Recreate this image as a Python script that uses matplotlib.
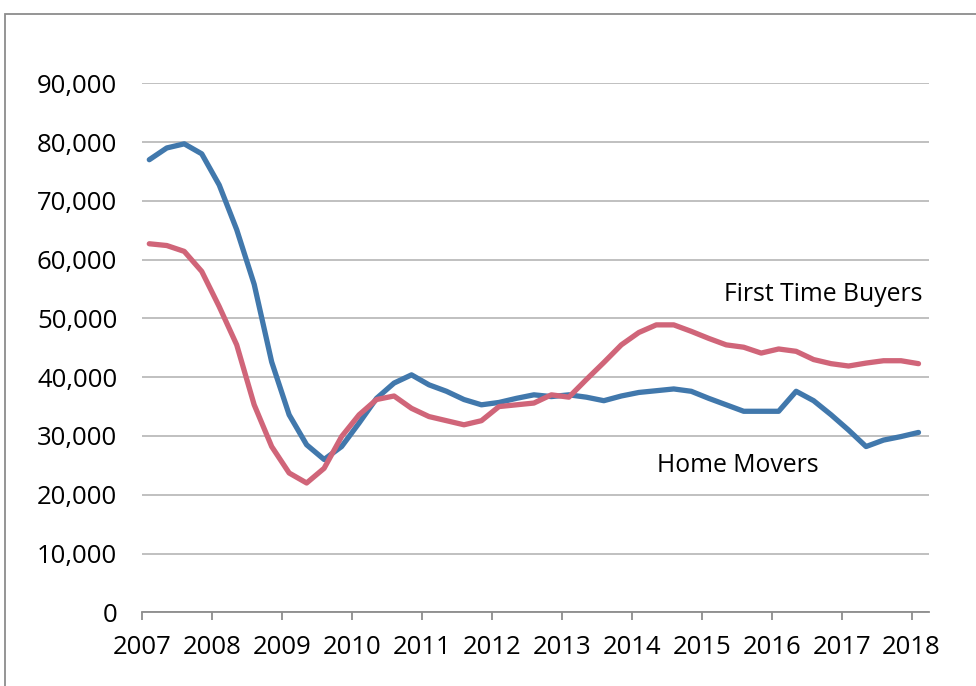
import matplotlib
matplotlib.use("Agg")
import matplotlib.pyplot as plt
from matplotlib.patches import Rectangle
import numpy as np

plt.rcParams['font.family'] = ['Open Sans', 'DejaVu Sans']

# Quarterly data, 2007 Q1 .. 2018 Q1
start_year = 2007
home_movers = [77000, 79000, 79700, 78000, 72700, 65100, 55800, 42600,
               33600, 28500, 26000, 28200, 32200, 36400, 39000, 40400,
               38700, 37600, 36200, 35300, 35700, 36400, 37000, 36700,
               37000, 36600, 36000, 36800, 37400, 37700, 38000, 37600,
               36400, 35300, 34200, 34200, 34200, 37600, 36000, 33600,
               31000, 28200, 29300, 29900, 30600]
first_time_buyers = [62700, 62400, 61400, 58000, 52000, 45500, 35300, 28200,
                     23700, 22000, 24500, 29900, 33600, 36200, 36800, 34700,
                     33300, 32600, 31900, 32600, 35000, 35300, 35600, 37000,
                     36600, 39600, 42500, 45500, 47600, 48900, 48900, 47800,
                     46600, 45500, 45100, 44100, 44800, 44400, 43000, 42300,
                     41900, 42400, 42800, 42800, 42300]
year_labels = [str(y) for y in range(2007, 2019)]
y_ticks = list(range(0, 90001, 10000))

n = len(home_movers)
x = start_year + 0.1 + 0.25 * np.arange(n)

fig = plt.figure(figsize=(9.76, 6.86), dpi=100)
ax = fig.add_axes([142.3 / 976, 1 - 612.3 / 686, (929 - 142.3) / 976, (612.3 - 83.3) / 686])

blue = '#4178AC'
red = '#D06579'
ax.plot(x, home_movers, color=blue, lw=3.8, solid_joinstyle='round', solid_capstyle='round', zorder=3)
ax.plot(x, first_time_buyers, color=red, lw=3.8, solid_joinstyle='round', solid_capstyle='round', zorder=3)

ax.set_xlim(2007, 2018.25)
ax.set_ylim(0, 90000)
ax.set_yticks(y_ticks)
ax.set_yticklabels([f"{v:,}" for v in y_ticks])
ax.set_xticks(range(2007, 2019))
ax.set_xticklabels(year_labels)

fs = 18.5
ax.grid(axis='y', color='#C0C0C0', lw=1.4, zorder=0)
ax.set_axisbelow(True)
for s in ['top', 'right', 'left']:
    ax.spines[s].set_visible(False)
ax.spines['bottom'].set_color('#8C8C8C')
ax.spines['bottom'].set_linewidth(1.3)
ax.tick_params(axis='y', length=0, pad=18, labelsize=fs, colors='black')
ax.tick_params(axis='x', length=5.5, width=1.3, color='#8C8C8C', pad=11, labelsize=fs)

ax.text(2018.15, 54000, 'First Time Buyers', ha='right', va='center', fontsize=17.8)
ax.text(2014.36, 25000, 'Home Movers', ha='left', va='center', fontsize=17.8)

fig.patches.append(Rectangle((5 / 976, -0.1), 2, (686 - 14) / 686 + 0.1,
                             transform=fig.transFigure, fill=False,
                             edgecolor='#8C8C8C', lw=1.3, clip_on=False))

fig.savefig('out.png', dpi=100)
